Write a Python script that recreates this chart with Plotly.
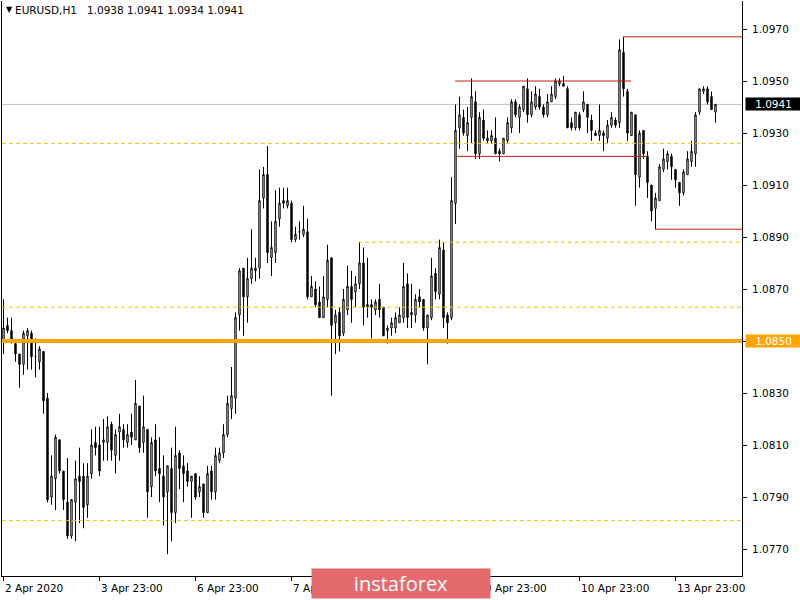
import plotly.graph_objects as go

# ---------------- data (EURUSD H1, bar 0 = 2 Apr 2020 23:00) ----------------
open_ = [
    1.0850, 1.0856, 1.0854, 1.0849, 1.0845, 1.0841, 1.0852, 1.0853, 1.0844, 1.0842,
    1.0846, 1.0828, 1.0790, 1.0797, 1.0812, 1.0800, 1.0788, 1.0775, 1.0788, 1.0798,
    1.0798, 1.0787, 1.0799, 1.0811, 1.0810, 1.0811, 1.0811, 1.0818, 1.0806, 1.0815,
    1.0816, 1.0811, 1.0815, 1.0812, 1.0825, 1.0811, 1.0816, 1.0794, 1.0812, 1.0801,
    1.0798, 1.0792, 1.0801, 1.0784, 1.0807, 1.0802, 1.0800, 1.0796, 1.0799, 1.0792,
    1.0795, 1.0784, 1.0800, 1.0792, 1.0804, 1.0807, 1.0814, 1.0824, 1.0828, 1.0860,
    1.0878, 1.0867, 1.0874, 1.0877, 1.0878, 1.0905, 1.0914, 1.0882, 1.0884, 1.0897,
    1.0904, 1.0902, 1.0903, 1.0889, 1.0892, 1.0891, 1.0892, 1.0867, 1.0870, 1.0865,
    1.0859, 1.0866, 1.0882, 1.0857, 1.0861, 1.0853, 1.0862, 1.0871, 1.0869, 1.0872,
    1.0880, 1.0864, 1.0864, 1.0862, 1.0866, 1.0863, 1.0854, 1.0855, 1.0855, 1.0857,
    1.0859, 1.0872, 1.0860, 1.0860, 1.0867, 1.0866, 1.0855, 1.0859, 1.0876, 1.0868,
    1.0885, 1.0860, 1.0859, 1.0903, 1.0932, 1.0936, 1.0929, 1.0936, 1.0942, 1.0922,
    1.0935, 1.0927, 1.0927, 1.0928, 1.0923, 1.0922, 1.0927, 1.0932, 1.0942, 1.0936,
    1.0939, 1.0947, 1.0937, 1.0940, 1.0944, 1.0940, 1.0937, 1.0942, 1.0944, 1.0949,
    1.0949, 1.0947, 1.0934, 1.0932, 1.0937, 1.0939, 1.0941, 1.0935, 1.0930, 1.0929,
    1.0930, 1.0928, 1.0933, 1.0935, 1.0934, 1.0961, 1.0946, 1.0929, 1.0937, 1.0913,
    1.0931, 1.0921, 1.0910, 1.0901, 1.0904, 1.0916, 1.0919, 1.0921, 1.0916, 1.0911,
    1.0907, 1.0914, 1.0919, 1.0922, 1.0938, 1.0946, 1.0947, 1.0944, 1.0938,
]
high = [
    1.0866, 1.0859, 1.0859, 1.0850, 1.0845, 1.0854, 1.0855, 1.0854, 1.0851, 1.0848,
    1.0846, 1.0830, 1.0806, 1.0814, 1.0812, 1.0800, 1.0805, 1.0789, 1.0804, 1.0809,
    1.0803, 1.0803, 1.0816, 1.0817, 1.0817, 1.0820, 1.0821, 1.0819, 1.0816, 1.0822,
    1.0818, 1.0818, 1.0822, 1.0835, 1.0825, 1.0829, 1.0816, 1.0813, 1.0818, 1.0813,
    1.0806, 1.0802, 1.0809, 1.0817, 1.0808, 1.0806, 1.0803, 1.0798, 1.0799, 1.0798,
    1.0795, 1.0802, 1.0802, 1.0809, 1.0809, 1.0818, 1.0829, 1.0840, 1.0861, 1.0878,
    1.0878, 1.0882, 1.0893, 1.0882, 1.0916, 1.0917, 1.0925, 1.0896, 1.0908, 1.0909,
    1.0909, 1.0909, 1.0904, 1.0894, 1.0896, 1.0902, 1.0897, 1.0875, 1.0873, 1.0871,
    1.0875, 1.0887, 1.0882, 1.0862, 1.0863, 1.0870, 1.0879, 1.0877, 1.0875, 1.0888,
    1.0886, 1.0882, 1.0866, 1.0866, 1.0872, 1.0863, 1.0856, 1.0859, 1.0861, 1.0863,
    1.0880, 1.0876, 1.0872, 1.0868, 1.0870, 1.0866, 1.0860, 1.0882, 1.0878, 1.0889,
    1.0888, 1.0861, 1.0913, 1.0941, 1.0944, 1.0939, 1.0940, 1.0951, 1.0946, 1.0938,
    1.0939, 1.0931, 1.0931, 1.0936, 1.0924, 1.0928, 1.0936, 1.0943, 1.0943, 1.0941,
    1.0948, 1.0951, 1.0946, 1.0948, 1.0947, 1.0941, 1.0945, 1.0948, 1.0951, 1.0951,
    1.0952, 1.0948, 1.0936, 1.0938, 1.0938, 1.0946, 1.0941, 1.0937, 1.0931, 1.0941,
    1.0931, 1.0935, 1.0938, 1.0936, 1.0966, 1.0967, 1.0947, 1.0938, 1.0937, 1.0931,
    1.0931, 1.0923, 1.0910, 1.0907, 1.0918, 1.0924, 1.0923, 1.0922, 1.0916, 1.0911,
    1.0916, 1.0923, 1.0927, 1.0938, 1.0947, 1.0948, 1.0948, 1.0946, 1.0941,
]
low = [
    1.0845, 1.0853, 1.0849, 1.0842, 1.0832, 1.0837, 1.0839, 1.0839, 1.0836, 1.0839,
    1.0822, 1.0788, 1.0787, 1.0785, 1.0799, 1.0785, 1.0774, 1.0774, 1.0773, 1.0780,
    1.0778, 1.0782, 1.0797, 1.0806, 1.0798, 1.0804, 1.0804, 1.0804, 1.0799, 1.0804,
    1.0809, 1.0809, 1.0810, 1.0812, 1.0807, 1.0807, 1.0782, 1.0790, 1.0798, 1.0788,
    1.0779, 1.0768, 1.0773, 1.0780, 1.0793, 1.0788, 1.0794, 1.0782, 1.0789, 1.0790,
    1.0782, 1.0784, 1.0789, 1.0789, 1.0803, 1.0805, 1.0813, 1.0820, 1.0822, 1.0854,
    1.0852, 1.0857, 1.0872, 1.0873, 1.0874, 1.0901, 1.0880, 1.0875, 1.0880, 1.0894,
    1.0901, 1.0901, 1.0888, 1.0888, 1.0889, 1.0890, 1.0866, 1.0867, 1.0863, 1.0859,
    1.0859, 1.0863, 1.0829, 1.0845, 1.0846, 1.0852, 1.0860, 1.0857, 1.0863, 1.0870,
    1.0856, 1.0859, 1.0851, 1.0860, 1.0859, 1.0852, 1.0849, 1.0852, 1.0853, 1.0857,
    1.0857, 1.0855, 1.0855, 1.0857, 1.0863, 1.0854, 1.0841, 1.0858, 1.0866, 1.0866,
    1.0855, 1.0849, 1.0858, 1.0895, 1.0924, 1.0929, 1.0923, 1.0926, 1.0920, 1.0920,
    1.0927, 1.0926, 1.0926, 1.0922, 1.0919, 1.0922, 1.0926, 1.0930, 1.0936, 1.0930,
    1.0938, 1.0934, 1.0936, 1.0939, 1.0939, 1.0936, 1.0936, 1.0942, 1.0943, 1.0948,
    1.0948, 1.0932, 1.0931, 1.0931, 1.0931, 1.0938, 1.0930, 1.0927, 1.0929, 1.0927,
    1.0923, 1.0926, 1.0932, 1.0932, 1.0932, 1.0944, 1.0927, 1.0929, 1.0902, 1.0909,
    1.0920, 1.0905, 1.0896, 1.0893, 1.0904, 1.0915, 1.0916, 1.0912, 1.0909, 1.0902,
    1.0906, 1.0914, 1.0917, 1.0917, 1.0937, 1.0945, 1.0941, 1.0939, 1.0934,
]
close = [
    1.0855, 1.0854, 1.0850, 1.0845, 1.0841, 1.0853, 1.0854, 1.0844, 1.0844, 1.0847,
    1.0827, 1.0789, 1.0798, 1.0813, 1.0800, 1.0789, 1.0775, 1.0789, 1.0797, 1.0796,
    1.0786, 1.0798, 1.0810, 1.0809, 1.0800, 1.0812, 1.0817, 1.0808, 1.0814, 1.0817,
    1.0812, 1.0814, 1.0813, 1.0826, 1.0809, 1.0817, 1.0792, 1.0811, 1.0800, 1.0799,
    1.0790, 1.0802, 1.0784, 1.0806, 1.0801, 1.0799, 1.0796, 1.0798, 1.0790, 1.0794,
    1.0784, 1.0799, 1.0792, 1.0806, 1.0807, 1.0814, 1.0826, 1.0829, 1.0859, 1.0877,
    1.0867, 1.0874, 1.0878, 1.0878, 1.0904, 1.0914, 1.0884, 1.0886, 1.0896, 1.0903,
    1.0903, 1.0904, 1.0889, 1.0891, 1.0892, 1.0893, 1.0867, 1.0871, 1.0864, 1.0859,
    1.0867, 1.0881, 1.0856, 1.0860, 1.0852, 1.0866, 1.0871, 1.0866, 1.0872, 1.0880,
    1.0863, 1.0863, 1.0863, 1.0865, 1.0862, 1.0852, 1.0855, 1.0857, 1.0859, 1.0860,
    1.0871, 1.0859, 1.0861, 1.0866, 1.0865, 1.0855, 1.0860, 1.0875, 1.0869, 1.0886,
    1.0859, 1.0857, 1.0904, 1.0931, 1.0937, 1.0930, 1.0934, 1.0944, 1.0922, 1.0936,
    1.0928, 1.0928, 1.0929, 1.0922, 1.0922, 1.0928, 1.0934, 1.0942, 1.0937, 1.0940,
    1.0948, 1.0937, 1.0942, 1.0945, 1.0940, 1.0937, 1.0942, 1.0945, 1.0950, 1.0950,
    1.0948, 1.0932, 1.0932, 1.0938, 1.0932, 1.0942, 1.0936, 1.0931, 1.0929, 1.0931,
    1.0929, 1.0933, 1.0936, 1.0933, 1.0962, 1.0947, 1.0930, 1.0938, 1.0914, 1.0930,
    1.0922, 1.0911, 1.0900, 1.0905, 1.0917, 1.0920, 1.0922, 1.0917, 1.0912, 1.0907,
    1.0915, 1.0920, 1.0923, 1.0937, 1.0947, 1.0947, 1.0942, 1.0939, 1.0941,
]

tick_idx = [0, 24, 48, 72, 96, 120, 144, 168]
tick_text = ["2 Apr 2020", "3 Apr 23:00", "6 Apr 23:00", "7 Apr 23:00",
             "8 Apr 23:00", "9 Apr 23:00", "10 Apr 23:00", "13 Apr 23:00"]
price_ticks = [1.0770, 1.0790, 1.0810, 1.0830, 1.0850, 1.0870,
               1.0890, 1.0910, 1.0930, 1.0950, 1.0970]

key_level = 1.0850                                   # orange level
dash_levels = [1.0926, 1.0888, 1.0863, 1.0781]       # yellow dashed levels
dash_from = [None, 88.6, None, None]                 # bar index where line starts (None = left edge)
red_levels = [1.0967, 1.0950, 1.0921, 1.0893]        # red channel lines
red_from = [154.9, 112.9, 112.9, 162.9]
red_to = [None, 156.9, 160.9, None]                  # None = right edge

n = len(close)
assert len(open_) == len(high) == len(low) == n

X_MIN, X_MAX = -0.375, 184.625
Y_MIN, Y_MAX = 1.075962, 1.098077
FONT = "DejaVu Sans"

fig = go.Figure(go.Candlestick(
    x=list(range(n)), open=open_, high=high, low=low, close=close,
    increasing=dict(line=dict(color="black", width=1), fillcolor="white"),
    decreasing=dict(line=dict(color="black", width=1), fillcolor="black"),
    whiskerwidth=0, showlegend=False, hoverinfo="skip",
))

shapes = []
# bid line
shapes.append(dict(type="line", xref="x", yref="y", x0=X_MIN, x1=X_MAX,
                   y0=close[-1], y1=close[-1], layer="below",
                   line=dict(color="#c0c0c0", width=1)))
for lv, fr in zip(dash_levels, dash_from):
    shapes.append(dict(type="line", xref="x", yref="y",
                       x0=X_MIN if fr is None else fr, x1=X_MAX, y0=lv, y1=lv,
                       layer="above", line=dict(color="#f0c400", width=1, dash="4px,3px")))
for lv, fr, to in zip(red_levels, red_from, red_to):
    shapes.append(dict(type="line", xref="x", yref="y",
                       x0=fr, x1=X_MAX if to is None else to, y0=lv, y1=lv,
                       layer="above", line=dict(color="#c41a1a", width=1)))
shapes.append(dict(type="line", xref="x", yref="y", x0=X_MIN, x1=X_MAX,
                   y0=key_level, y1=key_level, layer="above",
                   line=dict(color="#ffa500", width=4)))

ann = []
# header
ann.append(dict(xref="paper", yref="paper", x=0, y=1, xanchor="left", yanchor="top",
                xshift=2, yshift=-2, showarrow=False, text="▼",
                font=dict(family=FONT, size=8, color="black")))
hdr = "EURUSD,H1" + "\u00a0" * 3 + " ".join(f"{v:.4f}" for v in
                                            (open_[-1], high[-1], low[-1], close[-1]))
ann.append(dict(xref="paper", yref="paper", x=0, y=1, xanchor="left", yanchor="top",
                xshift=11, yshift=-1, showarrow=False, text=hdr,
                font=dict(family=FONT, size=10.5, color="black")))
# time labels
for i, t in zip(tick_idx, tick_text):
    ann.append(dict(xref="x", yref="paper", x=i, y=0, xanchor="left", yanchor="top",
                    xshift=-1, yshift=-4, showarrow=False, text=t,
                    font=dict(family=FONT, size=10.5, color="black")))
# price tags
ann.append(dict(xref="paper", yref="y", x=1, y=close[-1], xanchor="left", yanchor="middle",
                xshift=3, showarrow=False, text=f"{close[-1]:.4f}", bgcolor="black",
                width=55, height=12, borderpad=0,
                font=dict(family=FONT, size=10.5, color="white")))
ann.append(dict(xref="paper", yref="y", x=1, y=key_level, xanchor="left", yanchor="middle",
                xshift=3, showarrow=False, text=f"{key_level:.4f}", bgcolor="#ffa500",
                width=55, height=12, borderpad=0,
                font=dict(family=FONT, size=10.5, color="white")))
# logo
ann.append(dict(xref="paper", yref="paper", x=(401 - 2) / 740, y=(576 - 583.5) / 575,
                xanchor="center", yanchor="middle", showarrow=False, text="instaforex",
                bgcolor="#e46b6d", width=178, height=29, borderpad=0,
                font=dict(family="Open Sans", size=20, color="white")))

fig.update_layout(
    width=800, height=600,
    margin=dict(l=2, r=58, t=1, b=24, pad=0),
    paper_bgcolor="white", plot_bgcolor="white",
    boxgap=0.5, showlegend=False,
    shapes=shapes, annotations=ann,
    xaxis=dict(range=[X_MIN, X_MAX], rangeslider=dict(visible=False),
               showgrid=False, zeroline=False, showline=True, linecolor="black",
               linewidth=1, ticks="outside", ticklen=4, tickcolor="black",
               tickvals=tick_idx, showticklabels=False),
    yaxis=dict(side="right", range=[Y_MIN, Y_MAX], tickvals=price_ticks,
               tickformat=".4f", ticks="outside", ticklen=4, tickcolor="black",
               showline=True, mirror=True, linecolor="black", linewidth=1,
               showgrid=False, zeroline=False, ticklabelstandoff=3,
               tickfont=dict(family=FONT, size=10.5, color="black")),
)

fig.write_html("out.html", config={"displayModeBar": False},
               post_script="document.body.style.margin='0';"
                           "document.body.style.overflow='hidden';")
